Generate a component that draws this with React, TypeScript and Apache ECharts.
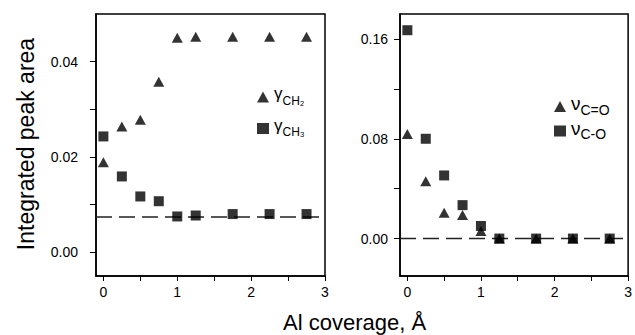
import React, { useEffect, useRef } from "react";
import * as echarts from "echarts";

const coverage = [0, 0.25, 0.5, 0.75, 1.0, 1.25, 1.75, 2.25, 2.75];
const gammaCH2 = [0.0189, 0.0264, 0.0278, 0.0358, 0.045, 0.0452, 0.0452, 0.0452, 0.0452];
const gammaCH3 = [0.0243, 0.0159, 0.0117, 0.0107, 0.0075, 0.0077, 0.008, 0.008, 0.008];
const nuCdO = [0.0838, 0.0459, 0.0207, 0.0188, 0.006, 0.0, 0.0, 0.0, 0.0];
const nuCO = [0.167, 0.08, 0.0506, 0.0268, 0.0101, 0.0, 0.0, 0.0, 0.0];
const leftBaseline = 0.0074;
const rightBaseline = 0;
const xRange = [-0.1, 3];
const xLabels = [0, 1, 2, 3];
const xTicks = [0, 0.5, 1, 1.5, 2, 2.5, 3];
const leftYLabels = [0, 0.02, 0.04];
const leftYTicks = [0, 0.01, 0.02, 0.03, 0.04];
const rightYLabels = [0, 0.08, 0.16];
const rightYTicks = [0, 0.04, 0.08, 0.12, 0.16];

const FONT = "Liberation Sans, Arial, Helvetica, sans-serif";

const richFor: Record<string, [string, string]> = {
  gCH2: ["γ", "CH₂"],
  gCH3: ["γ", "CH₃"],
  nCdO: ["ν", "C=O"],
  nCO: ["ν", "C-O"],
};

export default function App() {
  const ref = useRef<HTMLDivElement>(null);
  useEffect(() => {
    if (!ref.current) return;
    const chart = echarts.init(ref.current, null, { renderer: "svg" });
    const pair = (ys: number[]) => coverage.map((x, i) => [x, ys[i]]);
    const xAxisBase = (gridIndex: number) => ({
      type: "value" as const,
      gridIndex,
      min: xRange[0],
      max: xRange[1],
      splitLine: { show: false },
      axisLine: { show: true, onZero: false, lineStyle: { color: "#000", width: 1.5 } },
      axisTick: { show: true, inside: false, length: 5, customValues: xTicks, lineStyle: { color: "#000", width: 1 } },
      axisLabel: { customValues: xLabels, margin: 9, color: "#000", fontSize: 14, fontFamily: FONT, formatter: (v: number) => String(v) },
    });
    const richLeft = {
      g: { fontSize: 17, fontFamily: FONT, color: "#000", padding: [0, 0, 7, 0] },
      s: { fontSize: 12, fontFamily: FONT, color: "#000", padding: [7, 0, 0, 0] },
    };
    const richRight = {
      g: { fontSize: 19, fontFamily: FONT, color: "#000", padding: [0, 0, 6, 0] },
      s: { fontSize: 14, fontFamily: FONT, color: "#000", padding: [6, 0, 0, 0] },
    };
    const legendFormatter = (name: string) => {
      const r = richFor[name];
      return `{g|${r[0]}}{s|${r[1]}}`;
    };
    const dashed = (xIdx: number, y: number) => ({
      type: "line",
      xAxisIndex: xIdx,
      yAxisIndex: xIdx,
      symbol: "none",
      silent: true,
      z: 1,
      lineStyle: { color: "#222", width: 1.5, type: [16, 7] },
      data: [
        [xRange[0], y],
        [xRange[1], y],
      ],
    });
    chart.setOption({
      animation: false,
      grid: [
        { left: 96, top: 14, width: 229, height: 262, show: true, borderColor: "#000", borderWidth: 1.5 },
        { left: 400, top: 14, width: 230, height: 262, show: true, borderColor: "#000", borderWidth: 1.5 },
      ],
      xAxis: [xAxisBase(0), xAxisBase(1)],
      yAxis: [
        {
          type: "value",
          gridIndex: 0,
          min: -0.005,
          max: 0.05,
          splitLine: { show: false },
          axisLine: { show: true, onZero: false, lineStyle: { color: "#000", width: 1.5 } },
          axisTick: { show: true, length: 6, customValues: leftYTicks, lineStyle: { color: "#000", width: 1 } },
          axisLabel: { customValues: leftYLabels, margin: 18, color: "#000", fontSize: 14, fontFamily: FONT, formatter: (v: number) => v.toFixed(2) },
        },
        {
          type: "value",
          gridIndex: 1,
          min: -0.03,
          max: 0.18,
          splitLine: { show: false },
          axisLine: { show: true, onZero: false, lineStyle: { color: "#000", width: 1.5 } },
          axisTick: { show: true, length: 6, customValues: rightYTicks, lineStyle: { color: "#000", width: 1 } },
          axisLabel: { customValues: rightYLabels, margin: 12, color: "#000", fontSize: 14, fontFamily: FONT, formatter: (v: number) => v.toFixed(2) },
        },
      ],
      legend: [
        {
          orient: "vertical",
          left: 252,
          top: 80,
          itemWidth: 12,
          itemHeight: 11,
          itemGap: 10,
          data: [
            { name: "gCH2", icon: "triangle" },
            { name: "gCH3", icon: "rect" },
          ],
          formatter: legendFormatter,
          textStyle: { rich: richLeft },
        },
        {
          orient: "vertical",
          left: 549,
          top: 89,
          itemWidth: 12,
          itemHeight: 11,
          itemGap: 2,
          data: [
            { name: "nCdO", icon: "triangle" },
            { name: "nCO", icon: "rect" },
          ],
          formatter: legendFormatter,
          textStyle: { rich: richRight },
        },
      ],
      series: [
        dashed(0, leftBaseline),
        dashed(1, rightBaseline),
        {
          name: "gCH2",
          type: "scatter",
          xAxisIndex: 0,
          yAxisIndex: 0,
          symbol: "triangle",
          symbolSize: [11, 10],
          itemStyle: { color: "#000" },
          data: pair(gammaCH2),
        },
        {
          name: "gCH3",
          type: "scatter",
          xAxisIndex: 0,
          yAxisIndex: 0,
          symbol: "rect",
          symbolSize: 10,
          itemStyle: { color: "#000" },
          data: pair(gammaCH3),
        },
        {
          name: "nCdO",
          type: "scatter",
          xAxisIndex: 1,
          yAxisIndex: 1,
          symbol: "triangle",
          symbolSize: [11, 10],
          itemStyle: { color: "#000" },
          data: pair(nuCdO),
        },
        {
          name: "nCO",
          type: "scatter",
          xAxisIndex: 1,
          yAxisIndex: 1,
          symbol: "rect",
          symbolSize: 10,
          itemStyle: { color: "#000" },
          data: pair(nuCO),
        },
      ],
      graphic: [
        {
          type: "text",
          x: 26,
          y: 144,
          rotation: Math.PI / 2,
          style: {
            text: "Integrated peak area",
            font: `23px ${FONT}`,
            fill: "#000",
            align: "center",
            verticalAlign: "middle",
          },
        },
        {
          type: "text",
          x: 283,
          y: 322,
          style: {
            text: "Al coverage, Å",
            font: `22px ${FONT}`,
            fill: "#000",
            align: "left",
            verticalAlign: "middle",
          },
        },
      ],
    });
    return () => chart.dispose();
  }, []);
  return <div ref={ref} style={{ width: 635, height: 335, position: "absolute", left: 0, top: 0 }} />;
}
